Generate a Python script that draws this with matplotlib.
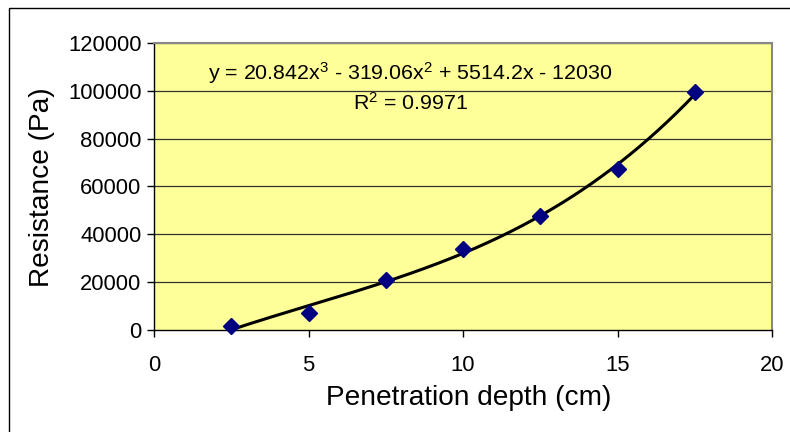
import matplotlib.pyplot as plt
import numpy as np
from matplotlib.patches import Rectangle

plt.rcParams['font.family'] = ['Liberation Sans', 'DejaVu Sans']
plt.rcParams['mathtext.fontset'] = 'custom'
plt.rcParams['mathtext.rm'] = 'Liberation Sans'
plt.rcParams['mathtext.it'] = 'Liberation Sans'

# data
depth = [2.5, 5, 7.5, 10, 12.5, 15, 17.5]
resistance = [1500, 7000, 21000, 34000, 47500, 67500, 99500]
# cubic trendline coefficients as printed on the chart
trend_coef = [20.842, -319.06, 5514.2, -12030]
x_ticks = [0, 5, 10, 15, 20]
y_ticks = [0, 20000, 40000, 60000, 80000, 100000, 120000]

W, H = 790, 432
fig = plt.figure(figsize=(W / 100, H / 100), dpi=100)

# outer chart frame
fig.patches.append(Rectangle((9 / W, -0.1), 1.2, 1 - 8 / H + 0.1, transform=fig.transFigure,
                             fill=False, edgecolor='black', linewidth=1.0))

ax = fig.add_axes([154 / W, 1 - 330 / H, (772 - 154) / W, (330 - 43) / H])
ax.set_facecolor('#FFFF99')

for yv in y_ticks[1:]:
    ax.axhline(yv, color='#333333', linewidth=0.9, zorder=1)

xs = np.linspace(depth[0], depth[-1], 200)
ax.plot(xs, np.polyval(trend_coef, xs), color='black', linewidth=2.2, zorder=2)
ax.plot(depth, resistance, linestyle='none', marker='D', markersize=8,
        color='#000080', zorder=3, clip_on=False)

ax.set_xlim(0, 20)
ax.set_ylim(0, 120000)
ax.set_xticks(x_ticks)
ax.set_yticks(y_ticks)
ax.tick_params(labelsize=15.8, length=5, width=1, direction='out', pad=4)
ax.tick_params(axis='x', pad=13)
for s in ['top', 'right']:
    ax.spines[s].set_color('#888888')
    ax.spines[s].set_linewidth(1.5)
for s in ['left', 'bottom']:
    ax.spines[s].set_color('black')
    ax.spines[s].set_linewidth(1.0)

ax.text(8.3, 107600, 'y = 20.842x$^3$ - 319.06x$^2$ + 5514.2x - 12030',
        ha='center', va='center', fontsize=15.4)
ax.text(8.3, 94800, 'R$^2$ = 0.9971', ha='center', va='center', fontsize=15.4)

fig.text(469 / W, 1 - 398 / H, 'Penetration depth (cm)', ha='center', va='center', fontsize=20.2)
fig.text(42 / W, 1 - 187 / H, 'Resistance (Pa)', ha='center', va='center',
         rotation=90, fontsize=20.2)

fig.savefig('out.png', dpi=100)
